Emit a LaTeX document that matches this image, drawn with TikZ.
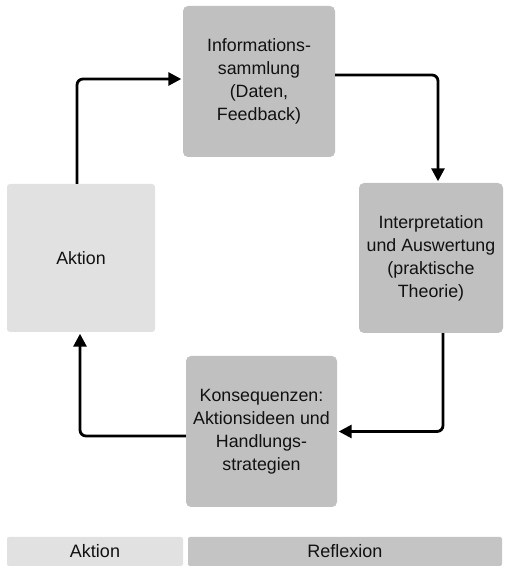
\documentclass[tikz,border=0pt]{standalone}
\usepackage{fontspec}
\setmainfont{Liberation Sans}
\usetikzlibrary{arrows.meta}
\definecolor{boxdark}{HTML}{C0C0C0}
\definecolor{boxlight}{HTML}{E1E1E1}
\definecolor{legdark}{HTML}{C4C4C4}
\definecolor{txt}{HTML}{111111}
\tikzset{
  box/.style={fill=boxdark, draw=none, rounded corners=5pt, align=center, text=txt,
    font=\fontsize{17.8}{23}\selectfont, inner sep=0pt},
  lightbox/.style={box, fill=boxlight, rounded corners=3pt},
  legbox/.style={draw=none, rounded corners=2pt, text=txt, font=\fontsize{18}{23}\selectfont,
    inner sep=0pt, minimum height=29pt},
  arr/.style={line width=2.8pt, black, rounded corners=6pt,
    -{Triangle[length=13pt,width=13pt]}, shorten >=1.5pt}
}
\begin{document}
\begin{tikzpicture}[x=1pt,y=1pt]
\useasboundingbox (0,0) rectangle (504,568);
\node[box, minimum width=152pt, minimum height=151pt] (info) at (259,486.5)
  {Informations-\\sammlung\\(Daten,\\Feedback)};
\node[box, minimum width=144pt, minimum height=150pt] (interp) at (431,310)
  {Interpretation\\und Auswertung\\(praktische\\Theorie)};
\node[lightbox, minimum width=148pt, minimum height=148pt] (aktion) at (81,310)
  {Aktion};
\node[box, minimum width=151pt, minimum height=151pt] (kons) at (261.5,136.5)
  {Konsequenzen:\\Aktionsideen und\\Handlungs-\\strategien};
\node[legbox, fill=boxlight, minimum width=176pt] (legA) at (95,16.5) {Aktion};
\node[legbox, fill=legdark, minimum width=314pt] (legR) at (345,16.5) {Reflexion};
\draw[arr] ([xshift=-4pt]aktion.north) |- ([yshift=2.5pt]info.west);
\draw[arr] ([yshift=6.5pt]info.east) -| ([xshift=7pt]interp.north);
\draw[arr] ([xshift=12pt]interp.south) |- (kons.east);
\draw[arr] ([yshift=-4.5pt]kons.west) -| ([xshift=-1pt]aktion.south);
\end{tikzpicture}
\end{document}
